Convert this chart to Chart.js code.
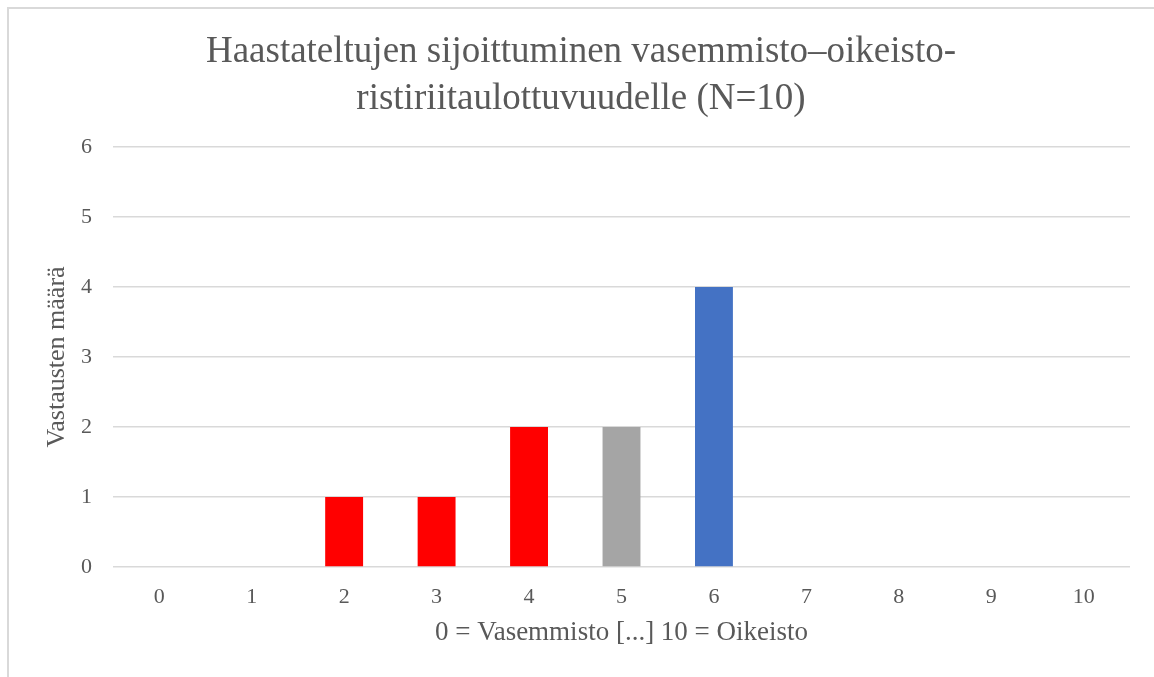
<!DOCTYPE html>
<html>
<head>
<meta charset="utf-8">
<script src="https://cdn.jsdelivr.net/npm/chart.js@4/dist/chart.umd.min.js"></script>
<style>
  body { margin: 0; overflow: hidden; background: #fff; }
  #frame { position: absolute; left: 7px; top: 7px; width: 1300px; height: 800px; border: 2px solid #d9d9d9; }
  #my-chart { position: absolute; left: 0; top: 0; }
</style>
</head>
<body>
<div id="frame"></div>
<canvas id="my-chart" width="1154" height="677"></canvas>
<script>
const scaleLabels = ["0", "1", "2", "3", "4", "5", "6", "7", "8", "9", "10"];
const counts = [0, 0, 1, 1, 2, 2, 4, 0, 0, 0, 0];
const yTicks = [0, 1, 2, 3, 4, 5, 6];
const titleLines = ["Haastateltujen sijoittuminen vasemmisto–oikeisto-", "ristiriitaulottuvuudelle (N=10)"];

// left side red, middle gray, right side blue
const barColors = ["#ff0000", "#ff0000", "#ff0000", "#ff0000", "#ff0000", "#a5a5a5",
  "#4472c4", "#4472c4", "#4472c4", "#4472c4", "#4472c4"];

const serif = '"Liberation Serif", serif';
const grey = "#595959";

function printTheChart() {
  const ctx = document.getElementById('my-chart').getContext('2d');
  const myChart = new Chart(ctx, {
    type: "bar",
    data: {
      labels: scaleLabels,
      datasets: [
        {
          label: "Vastausten määrä",
          data: counts,
          backgroundColor: barColors,
          borderWidth: 0,
          barPercentage: 0.41,
          categoryPercentage: 1,
        },
      ],
    },
    options: {
      responsive: false,
      animation: false,
      layout: { padding: { left: 32, right: 24, top: 0, bottom: 0 } },
      plugins: {
        legend: { display: false },
        tooltip: { enabled: false },
        title: {
          display: true,
          text: titleLines,
          color: grey,
          font: { family: serif, size: 37, weight: "normal", lineHeight: 1.27 },
          padding: { top: 29, bottom: 24 },
        },
      },
      scales: {
        x: {
          grid: { display: false, drawTicks: false },
          border: { display: false },
          ticks: { color: grey, font: { family: serif, size: 22 }, padding: 17, maxRotation: 0 },
          title: {
            display: true,
            text: "0 = Vasemmisto [...] 10 = Oikeisto",
            color: grey,
            font: { family: serif, size: 27, weight: "normal", lineHeight: 1.2 },
            padding: { top: 0, bottom: 28 },
          },
          afterFit: (scale) => { scale.height = 110; },
        },
        y: {
          min: 0,
          max: 6,
          afterBuildTicks: (scale) => { scale.ticks = yTicks.map(v => ({ value: v })); },
          grid: { color: "#d9d9d9", lineWidth: 1.5, drawTicks: false },
          border: { display: false },
          ticks: { color: grey, font: { family: serif, size: 22 }, padding: 21 },
          title: {
            display: true,
            text: "Vastausten määrä",
            color: grey,
            font: { family: serif, size: 26, weight: "normal", lineHeight: 1.2 },
            padding: { top: 10, bottom: 0 },
          },
          afterFit: (scale) => { scale.width = 81; },
        },
      },
    },
  });
}

document.fonts.load('37px "Liberation Serif"').then(printTheChart, printTheChart);
</script>
</body>
</html>
